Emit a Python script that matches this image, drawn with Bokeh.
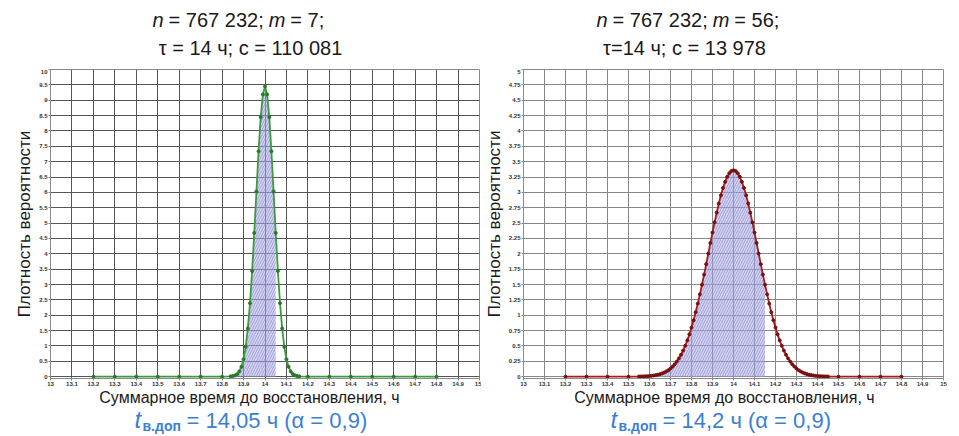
from bokeh.plotting import figure
from bokeh.layouts import row, column
from bokeh.models import FixedTicker, CustomJSTickFormatter, ColumnDataSource, Range1d, Label
from bokeh.embed import file_html
from bokeh.resources import INLINE

# ---------------- data ----------------
x_ticks = [13.0, 13.1, 13.2, 13.3, 13.4, 13.5, 13.6, 13.7, 13.8, 13.9, 14.0,
           14.1, 14.2, 14.3, 14.4, 14.5, 14.6, 14.7, 14.8, 14.9, 15.0]
left_y_ticks = [0, 0.5, 1, 1.5, 2, 2.5, 3, 3.5, 4, 4.5, 5, 5.5, 6, 6.5, 7,
                7.5, 8, 8.5, 9, 9.5, 10]
right_y_ticks = [0, 0.25, 0.5, 0.75, 1, 1.25, 1.5, 1.75, 2, 2.25, 2.5, 2.75,
                 3, 3.25, 3.5, 3.75, 4, 4.25, 4.5, 4.75, 5]

# left panel: m = 7
left_x = [13.2, 13.3, 13.4, 13.5, 13.6, 13.7, 13.8, 13.84,
          13.85, 13.86, 13.87, 13.88, 13.89, 13.90, 13.91, 13.92, 13.93, 13.94,
          13.95, 13.96, 13.97, 13.98, 13.99, 14.00, 14.01, 14.02, 14.03, 14.04,
          14.05, 14.06, 14.07, 14.08, 14.09, 14.10, 14.11, 14.12, 14.13, 14.14,
          14.15, 14.16, 14.2, 14.3, 14.4, 14.5, 14.6, 14.7, 14.8]
left_y = [0, 0, 0, 0, 0, 0, 0, 0.01,
          0.02, 0.04, 0.08, 0.17, 0.32, 0.57, 0.97, 1.57, 2.39, 3.44,
          4.68, 6.03, 7.34, 8.45, 9.19, 9.45, 9.19, 8.45, 7.34, 6.03,
          4.68, 3.44, 2.39, 1.57, 0.97, 0.57, 0.32, 0.17, 0.08, 0.04,
          0.02, 0.01, 0, 0, 0, 0, 0, 0, 0]

# right panel: m = 56
right_x = [13.2, 13.3, 13.4, 13.5, 13.55,
           13.56, 13.57, 13.58, 13.59, 13.60, 13.61, 13.62, 13.63, 13.64, 13.65,
           13.66, 13.67, 13.68, 13.69, 13.70, 13.71, 13.72, 13.73, 13.74, 13.75,
           13.76, 13.77, 13.78, 13.79, 13.80, 13.81, 13.82, 13.83, 13.84, 13.85,
           13.86, 13.87, 13.88, 13.89, 13.90, 13.91, 13.92, 13.93, 13.94, 13.95,
           13.96, 13.97, 13.98, 13.99, 14.00, 14.01, 14.02, 14.03, 14.04, 14.05,
           14.06, 14.07, 14.08, 14.09, 14.10, 14.11, 14.12, 14.13, 14.14, 14.15,
           14.16, 14.17, 14.18, 14.19, 14.20, 14.21, 14.22, 14.23, 14.24, 14.25,
           14.26, 14.27, 14.28, 14.29, 14.30, 14.31, 14.32, 14.33, 14.34, 14.35,
           14.36, 14.37, 14.38, 14.39, 14.40, 14.41, 14.42, 14.43, 14.44,
           14.45, 14.5, 14.6, 14.7, 14.8]
right_y = [0, 0, 0, 0, 0.002,
           0.003, 0.004, 0.006, 0.008, 0.011, 0.014, 0.019, 0.025, 0.032, 0.041,
           0.053, 0.067, 0.085, 0.106, 0.133, 0.164, 0.201, 0.245, 0.297, 0.357,
           0.425, 0.503, 0.591, 0.689, 0.799, 0.919, 1.049, 1.19, 1.34, 1.497,
           1.661, 1.831, 2.003, 2.176, 2.346, 2.512, 2.67, 2.818, 2.952, 3.072,
           3.172, 3.253, 3.312, 3.348, 3.36, 3.348, 3.312, 3.253, 3.172, 3.072,
           2.952, 2.818, 2.67, 2.512, 2.346, 2.176, 2.003, 1.831, 1.661, 1.497,
           1.34, 1.19, 1.049, 0.919, 0.799, 0.689, 0.591, 0.503, 0.425, 0.357,
           0.297, 0.245, 0.201, 0.164, 0.133, 0.106, 0.085, 0.067, 0.053, 0.041,
           0.032, 0.025, 0.019, 0.014, 0.011, 0.008, 0.006, 0.004, 0.003,
           0.002, 0, 0, 0, 0]

left_shade_edge = 14.05
right_shade_edge = 14.15

title_left_1 = ["n", "= 767 232;", "m", "= 7;"]
title_left_2 = "τ = 14 ч; с = 110 081"
title_right_1 = ["n", "= 767 232;", "m", "= 56;"]
title_right_2 = "τ=14 ч; с = 13 978"
x_label = "Суммарное время до восстановления, ч"
y_label = "Плотность вероятности"
note_left = "= 14,05 ч (α = 0,9)"
note_right = "= 14,2 ч (α = 0,9)"
note_sub = "в.доп"

FONT = "Liberation Sans"
TOP_H = 69        # strip above the plot frame
MAIN_H = 319      # frame (309) + tick-label border (10)
BOT_H = 48
BLUE = "#3b7fd4"
INK = "#1a1a1a"


def strip(w, h):
    s = figure(width=w, height=h, output_backend="svg", toolbar_location=None,
               x_range=Range1d(0, w), y_range=Range1d(0, h), min_border=0,
               x_axis_location=None, y_axis_location=None)
    s.grid.visible = False
    s.outline_line_color = None
    s.background_fill_color = "white"
    s.border_fill_color = "white"
    return s


def put(s, h, fl, x, y, text, size, style="normal", color=INK, align="left"):
    # x: page pixel, fl: page x of the (column-aligned) frame's left edge
    # y: pixel measured from the strip top
    s.add_layout(Label(x=x - fl, y=h - y, x_units="screen", y_units="screen",
                       text=text, text_font=FONT, text_font_size=f"{size}px",
                       text_font_style=style, text_color=color,
                       text_align=align, text_baseline="middle"))


def panel(xs, ys, edge, yticks, ymin, ymax, line_color, dot_color, grid_color,
          width, bl, br):
    p = figure(width=width, height=MAIN_H, output_backend="svg", toolbar_location=None,
               x_range=Range1d(13, 15), y_range=Range1d(ymin, ymax),
               min_border_left=bl, min_border_right=br,
               min_border_top=0, min_border_bottom=10)
    p.background_fill_color = "white"
    p.border_fill_color = "white"
    p.outline_line_color = "#8a8a8a"
    p.outline_line_width = 1
    for ax, ticks in ((p.xaxis[0], x_ticks), (p.yaxis[0], yticks)):
        ax.ticker = FixedTicker(ticks=ticks)
        ax.formatter = CustomJSTickFormatter(code="return (Math.round(tick*100)/100).toString();")
        ax.major_label_text_font = FONT
        ax.major_label_text_font_size = "6px"
        ax.major_label_text_font_style = "bold"
        ax.major_label_text_color = "#333333"
        ax.axis_line_color = "#8a8a8a"
        ax.major_tick_line_color = "#8a8a8a"
        ax.major_tick_in = 0
        ax.major_tick_out = 2
        ax.minor_tick_line_color = None
        ax.major_label_standoff = 1
    p.yaxis[0].axis_label = y_label
    p.yaxis[0].axis_label_text_font = FONT
    p.yaxis[0].axis_label_text_font_size = "17px"
    p.yaxis[0].axis_label_text_font_style = "normal"
    p.yaxis[0].axis_label_text_color = INK
    p.yaxis[0].axis_label_standoff = 2
    p.xgrid.ticker = FixedTicker(ticks=x_ticks)
    p.ygrid.ticker = FixedTicker(ticks=yticks)
    for g in (p.xgrid[0], p.ygrid[0]):
        g.grid_line_color = grid_color
        g.grid_line_width = 1

    sx = [x for x in xs if x <= edge + 1e-9]
    sy = [y for x, y in zip(xs, ys) if x <= edge + 1e-9]
    p.varea(x=sx, y1=[0] * len(sx), y2=sy, fill_color="#b4b4e8", fill_alpha=0.55,
            hatch_pattern="/", hatch_color="#5a5ac0", hatch_alpha=0.65,
            hatch_scale=5, hatch_weight=0.7)
    src = ColumnDataSource(dict(x=xs, y=ys))
    p.line("x", "y", source=src, line_color=line_color, line_width=1.8)
    p.scatter("x", "y", source=src, size=3, color=dot_color)
    return p


def title_strip(w, fl, parts, start, line2, center2):
    S = 20
    s = strip(w, TOP_H)
    # advances (em) of n, "= 767 232;", m incl. the following space
    adv = [0.556 + 0.25, 4.754 + 0.25, 0.833 + 0.25, 0]
    x = start
    for i, part in enumerate(parts):
        put(s, TOP_H, fl, x, 19, part, S, style="italic" if i in (0, 2) else "normal")
        x += adv[i] * S
    put(s, TOP_H, fl, center2, 47, line2, S, align="center")
    return s


def bottom_strip(w, fl, xl_center, note, note_start):
    s = strip(w, BOT_H)
    put(s, BOT_H, fl, xl_center, 9, x_label, 16, align="center")
    put(s, BOT_H, fl, note_start, 31, "t", 24, style="italic", color=BLUE)
    put(s, BOT_H, fl, note_start + 8, 37, note_sub, 14, style="bold", color=BLUE)
    put(s, BOT_H, fl, note_start + 52, 32, note, 22, color=BLUE)
    return s


LW, RW = 481, 478
LEFT_FRAME, RIGHT_FRAME = 50, LW + 38
left_main = panel(left_x, left_y, left_shade_edge, left_y_ticks, -0.06, 10,
                  "#3d9b3d", "#277a27", "#555555", LW, 50, 2)
right_main = panel(right_x, right_y, right_shade_edge, right_y_ticks, -0.03, 5,
                   "#a81c1c", "#7a1010", "#878787", RW, 38, 16)

left_top = title_strip(LW, LEFT_FRAME, title_left_1, 152, title_left_2, 250)
right_top = title_strip(RW, RIGHT_FRAME, title_right_1, 592, title_right_2, 680)
left_bot = bottom_strip(LW, LEFT_FRAME, 249, note_left, 134)
right_bot = bottom_strip(RW, RIGHT_FRAME, 720, note_right, 606)

layout = row(column(left_top, left_main, left_bot),
             column(right_top, right_main, right_bot))
open("out.html", "w").write(file_html(layout, INLINE))
